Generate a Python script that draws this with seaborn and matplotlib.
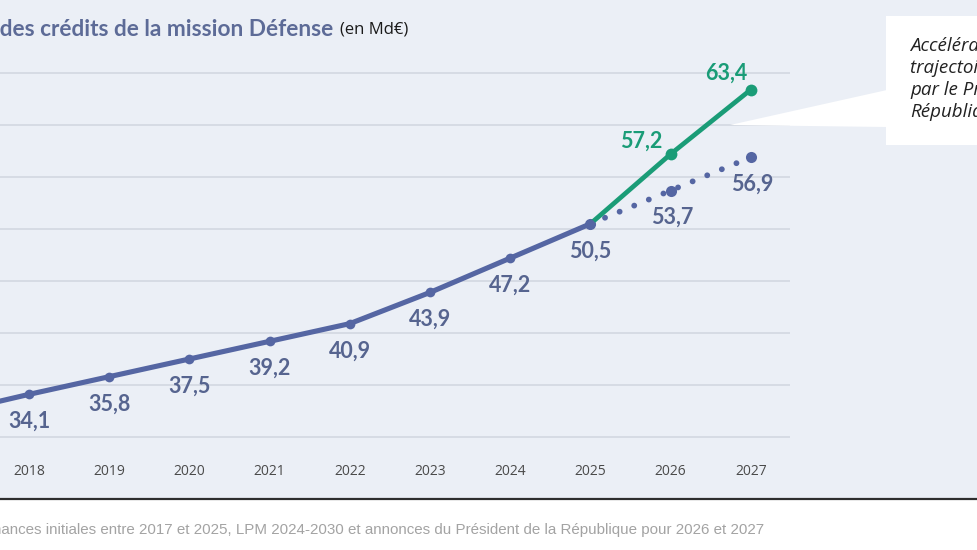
import matplotlib
matplotlib.use("Agg")
import matplotlib.pyplot as plt
import seaborn as sns
import pandas as pd
from matplotlib.patches import Rectangle, Polygon
from matplotlib.lines import Line2D

# ---- data ----
years_hist = [2017, 2018, 2019, 2020, 2021, 2022, 2023, 2024, 2025]
credits_hist = [32.3, 34.1, 35.8, 37.5, 39.2, 40.9, 43.9, 47.2, 50.5]
years_proj = [2025, 2026, 2027]
credits_lpm = [50.5, 53.7, 56.9]
credits_accel = [50.5, 57.2, 63.4]
xtick_years = [2018, 2019, 2020, 2021, 2022, 2023, 2024, 2025, 2026, 2027]
ygrid = [30, 35, 40, 45, 50, 55, 60, 65]

title_main = "Évolution des crédits de la mission Défense"
title_unit = "(en Md€)"
callout_lines = ["Accélération de la", "trajectoire décidée", "par le Président de la", "République"]
source_txt = ("Source : Lois de finances initiales entre 2017 et 2025, LPM 2024-2030 "
              "et annonces du Président de la République pour 2026 et 2027")

BLUE = "#5566a3"
BLUE_TXT = "#56648f"
GREEN = "#1a9c77"
PANEL = "#ebeff6"

sns.set_theme(style="white")
plt.rcParams['font.family'] = ['Open Sans', 'DejaVu Sans']
LABEL_FONT = ['Lato', 'DejaVu Sans']

W, H = 978, 550
fig = plt.figure(figsize=(W / 100, H / 100), dpi=100, facecolor="white")

def fx(px):
    return px / W

def fy(py):
    return 1 - py / H

# background panel
fig.patches.append(Rectangle((0, fy(499)), 1, 1 - fy(499), transform=fig.transFigure,
                             facecolor=PANEL, edgecolor="none", zorder=-10))
fig.lines.append(Line2D([0, 1], [fy(499), fy(499)], transform=fig.transFigure,
                        color="#2e2e2e", lw=1.6, zorder=5))

ax = fig.add_axes([0, fy(450), fx(790), (450 - 60) / H])
ax.set_facecolor("none")

df_hist = pd.DataFrame({"annee": years_hist, "credits": credits_hist})
df_lpm = pd.DataFrame({"annee": years_proj, "credits": credits_lpm})
df_acc = pd.DataFrame({"annee": years_proj, "credits": credits_accel})

sns.lineplot(data=df_lpm, x="annee", y="credits", ax=ax, color=BLUE, linewidth=4.2,
             linestyle=(0, (0.01, 2.7)), dash_capstyle="round", marker="o",
             markersize=8, markeredgewidth=0, zorder=3)
sns.lineplot(data=df_acc.iloc[1:], x="annee", y="credits", ax=ax, color=GREEN,
             linewidth=0, marker="o", markersize=8.5, markeredgewidth=0, zorder=4)
sns.lineplot(data=df_acc, x="annee", y="credits", ax=ax, color=GREEN, linewidth=3.4,
             zorder=4)
sns.lineplot(data=df_hist, x="annee", y="credits", ax=ax, color=BLUE, linewidth=3.7,
             marker="o", markersize=7, markeredgewidth=0, zorder=5)

ax.set_xlim(2018 - 29 / 80.2, 2018 + 761 / 80.2)
ax.set_ylim(30 - 13 / 10.4, 65 + 13 / 10.4)
ax.set_yticks(ygrid)
ax.set_yticklabels([])
ax.yaxis.grid(True, color="#d6dbe4", lw=1.4)
ax.xaxis.grid(False)
ax.set_xticks(xtick_years)
ax.set_xticklabels([str(y) for y in xtick_years], fontsize=10, color="#4a4a4a")
ax.tick_params(axis="x", length=0, pad=10)
ax.tick_params(axis="y", length=0)
ax.set_xlabel("")
ax.set_ylabel("")
for s in ax.spines.values():
    s.set_visible(False)

def fmt(v):
    return f"{v:.1f}".replace(".", ",")

lbl_kw = dict(textcoords="offset points", ha="center", va="center", fontsize=15.5,
              fontweight="bold", family=LABEL_FONT, annotation_clip=True)
for x, v in zip(years_hist, credits_hist):
    ax.annotate(fmt(v), (x, v), xytext=(0, -19.5), color=BLUE_TXT, **lbl_kw)
for x, v in zip(years_proj[1:], credits_lpm[1:]):
    ax.annotate(fmt(v), (x, v), xytext=(1, -19.5), color=BLUE_TXT, **lbl_kw)
for x, v, dx, dy in zip(years_proj[1:], credits_accel[1:], [-21, -18], [9.5, 12]):
    ax.annotate(fmt(v), (x, v), xytext=(dx, dy), color=GREEN, **lbl_kw)

# title
fig.text(fx(333), fy(29), title_main, ha="right", va="center", fontsize=16.3,
         fontweight="bold", family=LABEL_FONT, color="#5d6b97")
fig.text(fx(340), fy(30), title_unit, ha="left", va="center", fontsize=12,
         color="#1a1a1a")

# callout
fig.patches.append(Rectangle((fx(886), fy(145)), fx(200), fy(16) - fy(145),
                             transform=fig.transFigure, facecolor="white",
                             edgecolor="none", zorder=6))
fig.patches.append(Polygon([(fx(730), fy(125)), (fx(887), fy(90)), (fx(887), fy(127))],
                           closed=True, transform=fig.transFigure, facecolor="white",
                           edgecolor="none", zorder=6))
for i, line in enumerate(callout_lines):
    fig.text(fx(910), fy(46 + 22 * i), line, ha="left", va="center", fontsize=13.5,
             fontstyle="italic", color="#222222", zorder=7)

# source
fig.text(fx(764), fy(530), source_txt, ha="right", va="center", fontsize=10.9,
         color="#a3a3a3", family=["Liberation Sans", "DejaVu Sans"])

fig.savefig("out.png", dpi=100)
